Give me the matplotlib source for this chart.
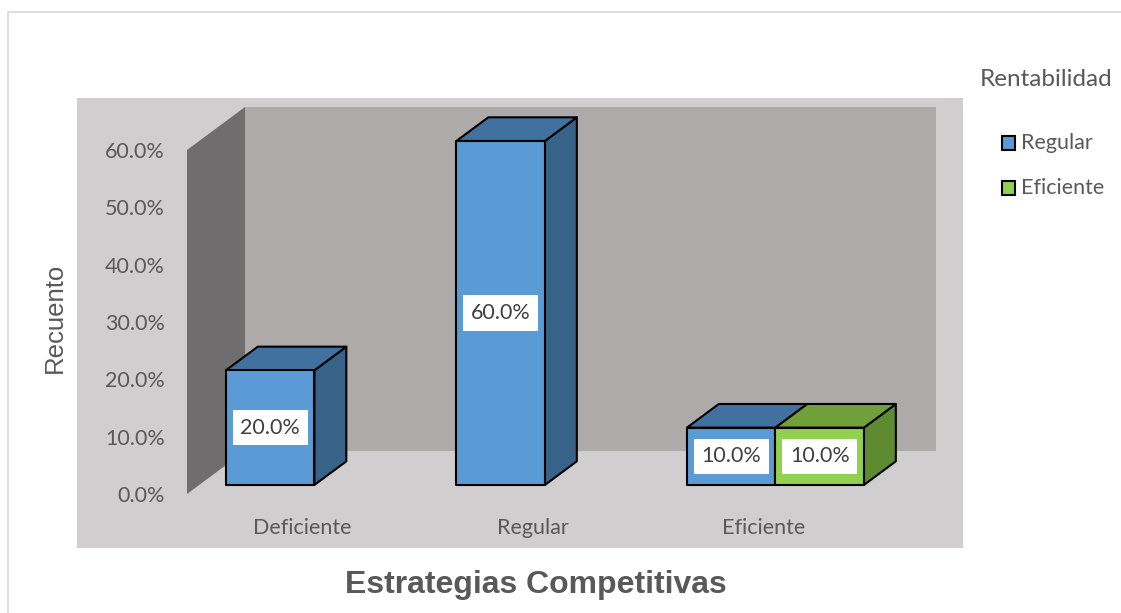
import matplotlib
matplotlib.use("Agg")
import matplotlib.pyplot as plt
from matplotlib.patches import Polygon, Rectangle
from matplotlib.ticker import FuncFormatter
import numpy as np

# data
categorias = ["Deficiente", "Regular", "Eficiente"]
series = ["Regular", "Eficiente"]
regular = [20.0, 60.0, 10.0]
eficiente = [np.nan, np.nan, 10.0]
valores = [regular, eficiente]

# colours per series: front, top, side
caras = {
  "Regular": ("#5B9BD5", "#41729F", "#386389"),
  "Eficiente": ("#92D050", "#70A03A", "#5E8A30"),
}

W, H = 1121, 613
fig = plt.figure(figsize=(W / 100, H / 100), dpi=100)
fig.patch.set_facecolor("white")

body = "Lato"
gris = "#595959"

# outer chart border and plot area background
fig.patches.append(Rectangle((8 / W, -0.1), 1.2, (H - 12) / H + 0.1, transform=fig.transFigure,
                             fill=False, edgecolor="#D9D9D9", lw=1.2, zorder=-2))
fig.patches.append(Rectangle((77 / W, 1 - 548 / H), (963 - 77) / W, (548 - 98) / H,
                             transform=fig.transFigure, facecolor="#D0CECE", edgecolor="none", zorder=-1))

ax = fig.add_axes([187 / W, (H - 494) / H, 691.5 / W, 344 / H])
ax.set_xlim(-0.5, 2.5)
ax.set_ylim(0, 60)
ax.patch.set_visible(False)
for s in ax.spines.values():
  s.set_visible(False)

# oblique depth offset (full depth of the floor) in data units
DX, DY = 0.2516, 7.5
d0, d1 = 0.21, 0.76
w = 0.384

def shift(pts, d):
  return [(x + d * DX, y + d * DY) for x, y in pts]

x0, x1 = ax.get_xlim()
y0, y1 = ax.get_ylim()
# side wall and back wall
ax.add_patch(Polygon([(x0, y0), (x0, y1), (x0 + DX, y1 + DY), (x0 + DX, y0 + DY)],
                     closed=True, facecolor="#6F6D6E", edgecolor="none", clip_on=False, zorder=1))
ax.add_patch(Polygon([(x0 + DX, y0 + DY), (x0 + DX, y1 + DY), (x1 + DX, y1 + DY), (x1 + DX, y0 + DY)],
                     closed=True, facecolor="#AEAAAA", edgecolor="none", clip_on=False, zorder=1))

lw = 1.5
z = 3
for i, cat in enumerate(categorias):
  for s, nombre in enumerate(series):
    v = valores[s][i]
    if np.isnan(v):
      continue
    front, top, side = caras[nombre]
    xa = i - w + s * w
    xb = xa + w
    cara = [(xa, 0), (xb, 0), (xb, v), (xa, v)]
    ax.add_patch(Polygon(shift([(xb, 0), (xb, v)], d0) + shift([(xb, v), (xb, 0)], d1),
                         closed=True, facecolor=side, edgecolor="black", lw=lw, clip_on=False, zorder=z,
                         joinstyle="round"))
    ax.add_patch(Polygon(shift([(xa, v), (xb, v)], d0) + shift([(xb, v), (xa, v)], d1),
                         closed=True, facecolor=top, edgecolor="black", lw=lw, clip_on=False, zorder=z,
                         joinstyle="round"))
    ax.add_patch(Polygon(shift(cara, d0), closed=True, facecolor=front, edgecolor="black", lw=lw,
                         clip_on=False, zorder=z, joinstyle="round"))
    cx, cy = shift([((xa + xb) / 2, v / 2)], d0)[0]
    ax.text(cx, cy, f"{v:.1f}%", ha="center", va="center", fontsize=15.5, family=body,
            color="#404040", zorder=z + 1,
            bbox=dict(boxstyle="square,pad=0.35", facecolor="white", edgecolor="none"))
    z += 1

ax.set_yticks(np.arange(0, 61, 10))
ax.yaxis.set_major_formatter(FuncFormatter(lambda v, p: f"{v:.1f}%"))
ax.set_xticks(range(len(categorias)))
ax.set_xticklabels(categorias)
ax.tick_params(axis="y", length=0, pad=16, labelsize=15.5, labelcolor=gris)
ax.tick_params(axis="x", length=0, pad=17, labelsize=15.5, labelcolor=gris)
for t in ax.get_xticklabels() + ax.get_yticklabels():
  t.set_family(body)

fig.text(55 / W, 1 - 318 / H, "Recuento", rotation=90, ha="center", va="center",
         family="Liberation Sans", fontsize=18.5, color=gris)
fig.text(536 / W, 1 - 585 / H, "Estrategias Competitivas", ha="center", va="center",
         family="Liberation Sans", fontweight="bold", fontsize=23, color=gris)

# legend
fig.text(1046 / W, 1 - 80 / H, "Rentabilidad", ha="center", va="center", family=body,
         fontsize=17.5, color=gris)
for k, nombre in enumerate(series):
  yc = 143 + 45 * k
  fig.patches.append(Rectangle((1002 / W, 1 - (yc + 7) / H), 13 / W, 14 / H, transform=fig.transFigure,
                               facecolor=caras[nombre][0], edgecolor="black", lw=1.5))
  fig.text(1021 / W, 1 - yc / H, nombre, ha="left", va="center", family=body,
           fontsize=15.5, color=gris)

fig.savefig("out.png", dpi=100)
